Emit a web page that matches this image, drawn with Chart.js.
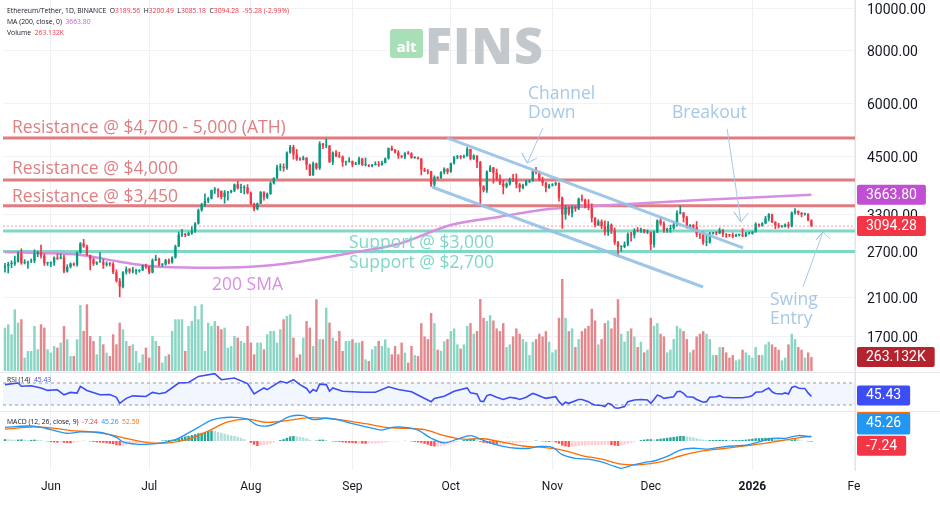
<!DOCTYPE html>
<html>
<head>
<meta charset="utf-8" />
<title>Ethereum/Tether 1D</title>
<script src="https://cdn.jsdelivr.net/npm/chart.js@4.4.1/dist/chart.umd.min.js"></script>
<style>
  html, body { margin: 0; padding: 0; background: #fff; }
  #wrap { position: relative; width: 940px; height: 507px; overflow: hidden; font-family: "Open Sans", sans-serif; }
  canvas { position: absolute; left: 0; }
  .sep { position: absolute; left: 0; width: 940px; height: 1px; background: #e6e8ee; }
  .leg { position: absolute; left: 7px; font-size: 6.8px; color: #131722; white-space: nowrap; line-height: 1; }
  .leg .r { color: #f23645; }
  .leg .m { color: #c35fd1; }
  .leg .b { color: #3d4df5; }
  .leg .bl { color: #2196f3; }
  .leg .o { color: #ff6d00; }
  .note { position: absolute; white-space: nowrap; font-size: 17.5px; line-height: 1; transform: translateY(-50%); }
  .res { color: #df7f82; }
  .sup { color: #7fd8c6; }
  .sma { color: #d98fe2; }
  .blu { color: #a6c8e8; }
  #logo { position: absolute; left: 390px; top: 22px; height: 40px; }
  #logo .alt { position: absolute; left: 0; top: 7px; width: 33px; height: 29px; background: #a9dfb7; border-radius: 3px;
               color: #fff; font: bold 15px "Open Sans", sans-serif; text-align: center; line-height: 34px; }
  #logo .fins { position: absolute; left: 35px; top: -11px; font: 800 50px "Open Sans", sans-serif; color: #c3c8cd; letter-spacing: 1px; }
</style>
</head>
<body>
<div id="wrap">
  <canvas id="mainChart" width="940" height="372" style="top:0"></canvas>
  <canvas id="rsiChart" width="940" height="39" style="top:372px"></canvas>
  <canvas id="macdChart" width="940" height="96" style="top:411px"></canvas>
  <div class="sep" style="top:372px"></div>
  <div class="sep" style="top:411px"></div>

  <div id="logo"><div class="alt">alt</div><div class="fins">FINS</div></div>

  <div class="leg" style="top:8px">Ethereum/Tether, 1D, BINANCE&nbsp;&nbsp;O<span class="r">3189.56</span>&nbsp; H<span class="r">3200.49</span>&nbsp; L<span class="r">3085.18</span>&nbsp; C<span class="r">3094.28</span>&nbsp; <span class="r">-95.28 (-2.99%)</span></div>
  <div class="leg" style="top:19px">MA (200, close, 0)&nbsp; <span class="m">3663.80</span></div>
  <div class="leg" style="top:30px">Volume&nbsp; <span class="r">263.132K</span></div>
  <div class="leg" style="top:377px">RSI (14)&nbsp; <span class="b">45.43</span></div>
  <div class="leg" style="top:419px">MACD (12, 26, close, 9)&nbsp; <span class="r">-7.24</span>&nbsp; <span class="bl">45.26</span>&nbsp; <span class="o">52.50</span></div>

  <div class="note res" style="left:12px; top:127px">Resistance @ $4,700 - 5,000 (ATH)</div>
  <div class="note res" style="left:12px; top:168px">Resistance @ $4,000</div>
  <div class="note res" style="left:12px; top:196px">Resistance @ $3,450</div>
  <div class="note sup" style="left:349px; top:242px">Support @ $3,000</div>
  <div class="note sup" style="left:349px; top:262px">Support @ $2,700</div>
  <div class="note sma" style="left:212px; top:284px">200 SMA</div>
  <div class="note blu" style="left:528px; top:93px">Channel</div>
  <div class="note blu" style="left:528px; top:112px">Down</div>
  <div class="note blu" style="left:672px; top:112px">Breakout</div>
  <div class="note blu" style="left:770px; top:299px">Swing</div>
  <div class="note blu" style="left:770px; top:318px">Entry</div>
</div>

<script>
  // time axis: days counted from 1 Jun 2025
  const X_MIN = -14.6, X_MAX = 245.3;
  const monthDays = [0, 30, 61, 92, 122, 153, 183, 214, 245];
  const monthLabels = ['Jun', 'Jul', 'Aug', 'Sep', 'Oct', 'Nov', 'Dec', '2026', 'Fe'];
  const priceTicks = [1700, 2100, 2700, 3300, 4500, 6000, 8000, 10000];

  // daily candles, 18 May 2025 .. 19 Jan 2026 (open = previous close)
  const firstDay = -14;
  const firstOpen = 2475;
  const closes = [
    2490,2520,2525,2550,2665,2530,2535,2550,2565,2660,
    2680,2635,2530,2530,2540,2610,2595,2610,2420,2480,
    2525,2510,2680,2815,2770,2645,2580,2525,2545,2545,
    2510,2525,2520,2410,2300,2230,2410,2450,2420,2420,
    2425,2435,2500,2485,2405,2570,2590,2510,2515,2570,
    2540,2610,2770,2955,2960,2945,2975,3010,3135,3370,
    3475,3545,3590,3755,3765,3740,3620,3705,3715,3745,
    3875,3795,3795,3810,3700,3485,3390,3495,3715,3610,
    3680,3900,4010,4255,4255,4230,4600,4745,4555,4440,
    4430,4475,4310,4070,4340,4230,4830,4780,4780,4375,
    4600,4510,4505,4365,4370,4390,4315,4325,4450,4300,
    4300,4275,4305,4310,4300,4350,4455,4715,4665,4605,
    4525,4500,4590,4580,4470,4480,4450,4200,4165,4155,
    3870,4030,4010,4140,4215,4145,4350,4485,4515,4485,
    4515,4690,4450,4525,4370,3830,3750,4150,4245,4125,
    3985,3890,3830,3890,3985,3980,3875,3805,3855,3935,
    3955,4160,4120,3980,3905,3805,3850,3875,3905,3605,
    3290,3415,3315,3430,3400,3585,3565,3420,3415,3230,
    3110,3170,3090,3000,3115,3020,2830,2765,2765,2800,
    2960,2950,3020,3015,3035,2990,2990,2800,2990,3190,
    3135,3020,3045,3060,3120,3320,3325,3240,3085,3110,
    3070,2960,2950,2830,2830,2975,2980,2975,3025,2960,
    2950,2945,2925,2950,2950,2935,2970,2970,3000,3125,
    3105,3140,3225,3295,3160,3105,3085,3085,3120,3090,
    3325,3355,3320,3295,3305,3189.56,3094.28
  ];
  const highs = [
    2530,2545,2565,2630,2690,2735,2580,2560,2590,2720,
    2700,2790,2660,2545,2550,2620,2660,2660,2640,2510,
    2535,2535,2690,2830,2880,2790,2645,2600,2550,2680,
    2585,2550,2540,2540,2440,2330,2420,2480,2460,2475,
    2450,2445,2505,2520,2490,2590,2640,2600,2525,2585,
    2590,2620,2790,2995,3040,2975,2995,3080,3150,3390,
    3500,3680,3610,3760,3810,3790,3740,3750,3730,3755,
    3885,3940,3880,3850,3870,3720,3500,3505,3730,3725,
    3700,3930,4020,4300,4330,4330,4620,4785,4790,4680,
    4480,4515,4480,4325,4370,4350,4880,4840,4955,4780,
    4620,4650,4610,4520,4395,4480,4400,4370,4490,4465,
    4470,4310,4320,4380,4390,4395,4470,4720,4770,4680,
    4650,4530,4600,4630,4600,4500,4490,4460,4230,4200,
    4165,4060,4040,4150,4240,4220,4350,4510,4530,4530,
    4540,4730,4690,4550,4530,4390,3850,4170,4290,4250,
    4210,4080,3960,3910,4010,4090,4100,3900,3880,3960,
    3970,4170,4250,4160,4030,3920,3880,3890,3920,3910,
    3620,3460,3440,3450,3450,3600,3660,3580,3570,3490,
    3240,3200,3200,3180,3170,3130,3060,2850,2780,2840,
    2980,2990,3050,3070,3060,3040,3030,3000,3010,3200,
    3240,3170,3060,3110,3170,3360,3450,3330,3260,3120,
    3120,3170,2980,3000,2950,2990,2990,3000,3060,3040,
    2970,2960,2980,2960,2960,3050,2990,3000,3005,3150,
    3130,3150,3260,3310,3300,3170,3140,3100,3130,3160,
    3340,3400,3360,3330,3320,3310,3200.49
  ];
  const lows = [
    2410,2400,2470,2500,2545,2515,2520,2460,2540,2535,
    2620,2600,2500,2500,2485,2500,2580,2590,2400,2410,
    2465,2495,2490,2670,2755,2640,2440,2500,2510,2540,
    2460,2490,2495,2390,2285,2110,2215,2385,2395,2400,
    2385,2410,2430,2460,2390,2400,2565,2495,2490,2505,
    2520,2530,2600,2765,2920,2920,2935,2960,2990,3125,
    3350,3440,3510,3580,3690,3615,3580,3500,3560,3700,
    3725,3775,3705,3680,3680,3470,3355,3375,3490,3560,
    3590,3670,3880,4000,4175,4160,4200,4585,4440,4410,
    4410,4420,4200,4060,4065,4200,4200,4700,4720,4360,
    4310,4500,4480,4270,4300,4370,4260,4310,4315,4290,
    4280,4265,4260,4300,4270,4300,4350,4440,4650,4590,
    4460,4470,4450,4560,4460,4460,4440,4080,4150,4100,
    3830,3820,3990,4000,4100,4100,4135,4320,4450,4450,
    4470,4510,4420,4430,4240,3440,3720,3710,4150,3900,
    3960,3870,3680,3800,3860,3930,3800,3720,3780,3850,
    3910,3940,4100,3950,3850,3720,3790,3840,3850,3540,
    3055,3210,3280,3250,3350,3380,3540,3410,3380,3160,
    3080,3100,3050,2950,2940,2970,2800,2620,2700,2750,
    2780,2850,2900,3000,2990,2980,2970,2720,2760,2985,
    3110,2990,2990,2990,3040,3090,3300,3160,3060,3070,
    3050,2920,2890,2800,2780,2820,2960,2950,2970,2920,
    2910,2920,2900,2920,2930,2920,2920,2960,2960,2990,
    3080,3090,3130,3180,3150,3050,3060,3070,3075,3060,
    3080,3300,3290,3250,3280,3180,3085.18
  ];
  // volume in thousands of ETH
  const volumes = [
    815,878,690,1160,909,972,251,376,376,846,
    408,878,815,408,345,470,439,533,846,596,
    282,282,596,1241,752,1254,658,564,313,658,
    502,345,282,690,502,909,784,564,470,502,
    376,157,313,439,251,658,564,470,157,282,
    313,752,972,972,972,376,846,940,1223,972,
    1254,376,909,846,940,846,784,815,439,470,
    658,627,564,533,846,533,313,533,533,408,
    690,752,752,533,784,972,1035,1066,627,251,
    313,627,940,815,470,1348,596,596,1191,909,
    627,564,752,376,564,564,596,533,533,564,
    219,188,408,470,564,470,596,439,313,470,
    313,533,345,157,470,
    300,280,900,650,600,1090,900,400,380,560,
    600,750,800,500,420,500,850,900,700,750,
    1354,1000,940,1050,950,800,750,900,450,500,
    650,800,700,600,550,300,550,600,700,650,
    750,550,350,400,1000,1730,1000,750,800,450,
    600,750,800,850,1170,950,500,600,900,950,
    800,1000,1350,700,550,750,800,650,450,550,
    350,400,1000,850,900,700,650,350,400,600,
    850,800,750,600,350,400,650,700,750,700,
    600,300,300,450,450,350,250,300,200,220,
    400,350,300,250,450,300,300,500,550,500,
    450,400,200,250,500,700,600,450,400,250,
    350,263.132
  ];

  // 200-day moving average
  const smaDays   = [-14, -3, 9, 21, 30, 45, 61, 76, 91, 106, 122, 137, 152, 167, 198, 232];
  const smaValues = [2689, 2674, 2646, 2551, 2493, 2470, 2483, 2551, 2670, 2807, 3111, 3254, 3392, 3454, 3562, 3663.8];

  const rsiDays = [-14,-10,-9,-6,-3,-1,2,4,6,8,9,11,15,18,20,21,23,25,29,31,33,35,39,42,45,50,52,56,60,62,65,66,70,72,74,76,
    78,79,80,81,82,84,85,86,89,92,95,99,103,106,110,113,116,117,120,123,127,128,130,131,132,133,134,136,138,140,142,143,145,
    147,148,150,151,154,155,156,157,158,161,162,164,165,166,168,169,170,171,172,173,175,176,178,180,182,183,184,185,186,187,
    190,191,192,193,194,196,197,199,200,201,203,204,205,208,211,213,214,215,217,218,219,220,221,223,224,225,226,227,228,229,
    230,231,232];
  const rsiValues = [67,70,64,65,61,56.5,57.7,48.5,52.8,51.5,64,56.5,48.5,49,44,33,42,46.6,45.4,52.8,50.3,52.8,70,71,82,87,76,79,69,50,61,58,73,70,76,67,
    60,52,58,55,68,67,55,61,55,54,53,53,63,58,54,45,36,42,46,55,61,52,50,37,36,47,49,44,40,44,42,40,44,
    51,49,44,42,45,36,30,35,33,40,40,36,32,30,29,27,33,31,25,24,27,36,39,40,39,33,40,48,46,42,
    45,54,55,51,45,44,40,35,36,44,45,47,44,43,43,45,47,53,54,58,61,54,51,50,52,50,62,64,61,60,
    60,52,45.43];

  const macdDays = [-14,-7,-3,0,5,9,12,16,20,22,26,30,34,38,41,45,49,52,56,60,63,66,69,73,77,80,84,88,92,97,
    101,104,108,112,116,120,124,128,131,134,138,142,146,149,153,156,160,164,168,172,174,178,182,184,188,192,196,200,204,208,
    212,216,220,224,228,232];
  const macdValues = [150,165,150,125,85,100,100,90,40,-10,-35,-35,-20,15,70,150,230,255,260,240,175,165,200,270,280,235,250,230,190,150,
    120,150,150,120,30,-20,20,60,20,-20,-60,-80,-80,-60,-70,-150,-190,-200,-230,-280,-300,-260,-230,-220,-170,-100,-80,-90,-70,-55,
    -45,-10,30,30,60,45.26];
  const signalDays = [-14,-5,0,6,12,18,24,30,36,42,48,54,60,66,72,78,84,90,96,102,108,114,120,126,132,138,144,150,156,162,
    168,174,180,186,192,198,204,210,216,222,228,232];
  const signalValues = [130,155,145,115,100,70,20,-20,-20,20,110,210,240,205,225,255,250,225,190,150,140,125,60,20,25,-15,-55,-70,-100,-160,
    -200,-255,-260,-230,-165,-115,-88,-62,-35,0,35,52.5];
  const histValues = [
    20,18,15,14,15,18,14,10,12,15,
    12,8,2,-5,-12,-15,-18,-16,-20,-22,
    -25,-20,-12,-5,2,0,-5,-10,-15,-18,
    -20,-25,-30,-35,-45,-50,-48,-42,-35,-30,
    -25,-20,-15,-12,-10,-8,-5,0,5,8,
    10,15,20,30,40,50,55,65,75,85,
    90,100,110,115,110,100,90,80,70,60,
    55,45,35,20,0,-20,-40,-55,-50,-45,
    -40,-30,-15,0,10,20,35,50,55,50,
    45,40,30,15,0,5,15,15,10,0,
    -5,-8,-10,-15,-18,-20,-22,-25,-25,-28,
    -30,-30,-30,-28,-25,-20,-15,-10,-5,-5,
    -3,0,2,0,-5,-10,-15,-20,-30,-40,
    -55,-60,-60,-55,-50,-40,-30,-20,-10,0,
    10,20,25,25,10,-10,-20,-25,-30,-35,
    -40,-40,-35,-30,-28,-25,-20,-18,-15,-10,
    -5,0,5,0,-5,-8,-10,-10,-15,-30,
    -50,-60,-65,-65,-60,-55,-50,-50,-45,-45,
    -45,-45,-45,-40,-40,-45,-50,-55,-50,-40,
    -30,-20,-10,0,10,15,20,20,15,20,
    25,30,35,40,45,50,55,55,50,45,
    40,30,20,15,10,10,10,12,12,12,
    12,10,10,10,10,12,15,20,25,30,
    30,32,35,35,35,30,25,20,15,10,
    15,20,15,5,0,-5,-7.24
  ];

  // drawn levels and trend lines (day, price)
  const resistanceLevels = [4980, 3965, 3450];
  const supportLevels = [3010, 2695];
  const channelUpper = [[120.85, 4980], [211.15, 2748]];
  const channelLower = [[116.27, 3821], [198.95, 2225]];
  const arrowChannel = [[150.1, 5256], [145.3, 4350], [143.7, 4591], [145.3, 4350], [148.3, 4469]];
  const arrowBreakout = [[206.3, 5227], [210.5, 3162], [208.4, 3338], [210.5, 3162], [212.7, 3320]];
  const arrowSwing = [[229.4, 2225], [235.55, 2996], [233.4, 2869], [235.55, 2996], [237.7, 2884]];

  const lastPrice = 3094.28, lastSma = 3663.80, lastVolume = 263.132;
  const lastRsi = 45.43, lastMacd = 45.26, lastSignal = 52.50, lastHist = -7.24;

  const UP = '#089981', DOWN = '#f23645';
  const days = closes.map((_, i) => firstDay + i);
  const opens = closes.map((c, i) => i === 0 ? firstOpen : closes[i - 1]);
  const rising = closes.map((c, i) => c >= opens[i]);
  const toPts = (xs, ys) => xs.map((x, i) => ({ x: x, y: ys[i] }));
  const pairPts = arr => arr.map(p => ({ x: p[0], y: p[1] }));
  const flat = v => [{ x: X_MIN, y: v }, { x: X_MAX, y: v }];

  Chart.defaults.font.family = 'Roboto';
  Chart.defaults.animation = false;
  Chart.defaults.plugins.legend.display = false;
  Chart.defaults.plugins.tooltip.enabled = false;
  Chart.defaults.elements.point.radius = 0;

  function xAxis(showLabels) {
    return {
      type: 'linear', min: X_MIN, max: X_MAX, offset: false, bounds: 'data',
      afterBuildTicks: s => { s.ticks = monthDays.map(v => ({ value: v })); },
      grid: { color: '#eef0f4', drawTicks: false, offset: false },
      border: { display: false },
      ticks: {
        display: showLabels, autoSkip: false, maxRotation: 0, padding: 10, color: '#131722',
        callback: (v, i) => monthLabels[i],
        font: c => ({ family: 'Roboto', size: 12, weight: (c.tick && c.tick.value === 214) ? 'bold' : 'normal' })
      },
      afterFit: s => { s.height = showLabels ? 37 : 0; s.paddingLeft = 0; s.paddingRight = 0; }
    };
  }
  function sideAxis(extra) {
    return Object.assign({
      position: 'right',
      grid: { display: false, drawTicks: false },
      border: { display: true, color: '#e0e3eb' },
      ticks: { display: false },
      afterFit: s => { s.width = 85; s.paddingTop = 0; s.paddingBottom = 0; }
    }, extra);
  }

  function badges(list) {
    return {
      id: 'badges',
      afterDraw(chart) {
        const ctx = chart.ctx;
        const x0 = chart.chartArea.right + 2;
        ctx.save();
        ctx.font = '14px Roboto';
        ctx.textBaseline = 'middle';
        list.forEach(b => {
          const y = chart.scales[b.axis].getPixelForValue(b.value) + (b.shift || 0);
          const w = ctx.measureText(b.text).width + 18;
          ctx.fillStyle = b.bg;
          ctx.beginPath();
          ctx.roundRect(x0, y - 10, w, b.h || 20, 2);
          ctx.fill();
          ctx.fillStyle = '#fff';
          ctx.fillText(b.text, x0 + 9, y + 0.5);
        });
        ctx.restore();
      }
    };
  }

  const lineSet = (data, color, width, extra) => Object.assign({
    type: 'line', data: data, borderColor: color, borderWidth: width, pointRadius: 0, fill: false
  }, extra);

  // ---------- price pane ----------
  const datasets = [];
  datasets.push({
    type: 'bar', yAxisID: 'yVol', order: 20, grouped: false,
    data: toPts(days, volumes),
    backgroundColor: rising.map(r => r ? '#8ad6c4' : '#e3898d'),
    barPercentage: 0.75, categoryPercentage: 1
  });
  resistanceLevels.forEach(v => datasets.push(lineSet(flat(v), '#e07b7f', 3, { order: 10 })));
  supportLevels.forEach(v => datasets.push(lineSet(flat(v), '#7fd8c6', 3, { order: 10 })));
  datasets.push(lineSet(flat(lastPrice), 'rgba(242,54,69,0.45)', 1, { order: 9, borderDash: [2, 2] }));
  datasets.push(lineSet(toPts(smaDays, smaValues), '#d68ee0', 2.5, { order: 8, tension: 0.4, cubicInterpolationMode: 'monotone' }));
  datasets.push({
    type: 'bar', order: 3, grouped: false,
    data: days.map((d, i) => ({ x: d, y: [lows[i], highs[i]] })),
    backgroundColor: rising.map(r => r ? UP : DOWN),
    barThickness: 1
  });
  datasets.push({
    type: 'bar', order: 2, grouped: false, minBarLength: 1,
    data: days.map((d, i) => ({ x: d, y: [opens[i], closes[i]] })),
    backgroundColor: rising.map(r => r ? UP : DOWN),
    barPercentage: 0.72, categoryPercentage: 1
  });
  datasets.push(lineSet(pairPts(channelUpper), 'rgba(150,192,230,0.9)', 3, { order: 1 }));
  datasets.push(lineSet(pairPts(channelLower), 'rgba(150,192,230,0.9)', 3, { order: 1 }));
  [arrowChannel, arrowBreakout, arrowSwing].forEach(a =>
    datasets.push(lineSet(pairPts(a), '#a6c8e8', 1, { order: 0 })));

  new Chart(document.getElementById('mainChart'), {
    data: { datasets: datasets },
    options: {
      responsive: false,
      layout: { autoPadding: false, padding: { left: 3, right: 0, top: 0, bottom: 1 } },
      scales: {
        x: xAxis(false),
        y: sideAxis({
          type: 'logarithmic', min: 1413, max: 10498,
          afterBuildTicks: s => { s.ticks = priceTicks.map(v => ({ value: v })); },
          grid: { color: '#f0f2f6', drawTicks: false },
          ticks: { display: true, padding: 12, labelOffset: 2, color: '#131722', font: { size: 14 }, callback: v => Number(v).toFixed(2) }
        }),
        yVol: { type: 'linear', display: false, min: 0, max: 6975 }
      }
    },
    plugins: [badges([
      { axis: 'y', value: lastSma, text: '3663.80', bg: '#c14fd3' },
      { axis: 'y', value: lastPrice, text: '3094.28', bg: '#f23645' },
      { axis: 'yVol', value: lastVolume, text: '263.132K', bg: '#b5232f' }
    ])]
  });

  // ---------- RSI pane ----------
  const rsiBand = {
    id: 'rsiBand',
    beforeDatasetsDraw(chart) {
      const a = chart.chartArea, y = chart.scales.y;
      const top = y.getPixelForValue(70), bot = y.getPixelForValue(30);
      chart.ctx.save();
      chart.ctx.fillStyle = 'rgba(41,98,255,0.06)';
      chart.ctx.fillRect(a.left, top, a.right - a.left, bot - top);
      chart.ctx.restore();
    }
  };
  new Chart(document.getElementById('rsiChart'), {
    data: {
      datasets: [
        lineSet(flat(70), '#9598a1', 1, { borderDash: [3, 3], order: 5 }),
        lineSet(flat(30), '#9598a1', 1, { borderDash: [3, 3], order: 5 }),
        lineSet(toPts(rsiDays, rsiValues), '#3d4df5', 1.6, { order: 1 })
      ]
    },
    options: {
      responsive: false,
      layout: { autoPadding: false, padding: { left: 3, right: 0, top: 0, bottom: 0 } },
      scales: { x: xAxis(false), y: sideAxis({ type: 'linear', min: 19, max: 90 }) }
    },
    plugins: [rsiBand, badges([{ axis: 'y', value: lastRsi, text: '45.43', bg: '#3d4df5', shift: -1 }])]
  });

  // ---------- MACD pane ----------
  const histColors = histValues.map((v, i) => {
    const prev = i === 0 ? v : histValues[i - 1];
    if (v >= 0) return v >= prev ? '#26a69a' : '#b2dfdb';
    return v < prev ? '#ff5252' : '#ffcdd2';
  });
  new Chart(document.getElementById('macdChart'), {
    data: {
      datasets: [
        { type: 'bar', order: 3, data: toPts(days, histValues), backgroundColor: histColors,
          barPercentage: 0.75, categoryPercentage: 1 },
        lineSet(toPts(signalDays, signalValues), '#ff6d00', 1.3, { order: 2, tension: 0.35 }),
        lineSet(toPts(macdDays, macdValues), '#2196f3', 1.3, { order: 1, tension: 0.35 })
      ]
    },
    options: {
      responsive: false,
      layout: { autoPadding: false, padding: { left: 3, right: 0, top: 0, bottom: 0 } },
      scales: { x: xAxis(true), y: sideAxis({ type: 'linear', min: -319, max: 330 }) }
    },
    plugins: [badges([
      { axis: 'y', value: lastSignal, text: '52.50', bg: '#ff6d00', shift: -15 },
      { axis: 'y', value: lastMacd, text: '45.26', bg: '#2196f3', shift: -13.4, h: 21 },
      { axis: 'y', value: lastHist, text: '-7.24', bg: '#f23645', shift: 4 }
    ])]
  });
</script>
</body>
</html>
